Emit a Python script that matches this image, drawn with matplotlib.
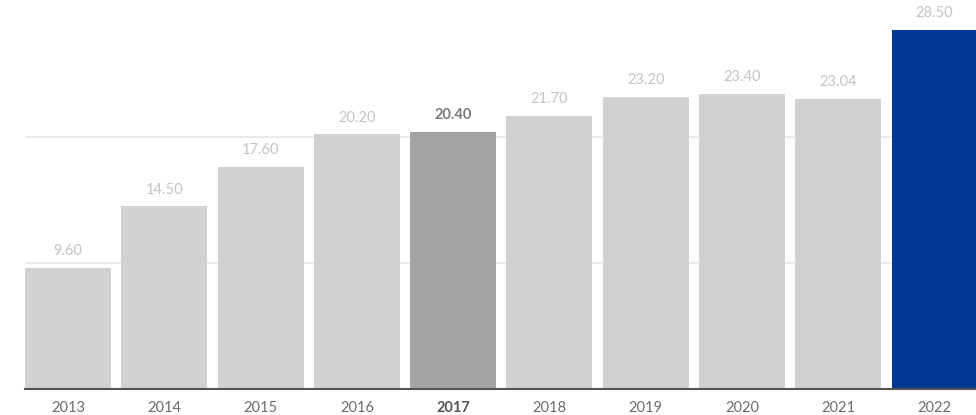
import matplotlib.pyplot as plt

years = ['2013', '2014', '2015', '2016', '2017', '2018', '2019', '2020', '2021', '2022']
values = [9.60, 14.50, 17.60, 20.20, 20.40, 21.70, 23.20, 23.40, 23.04, 28.50]
highlight_year = '2017'
latest_year = '2022'

plt.rcParams['font.family'] = ['Lato', 'DejaVu Sans']

fig = plt.figure(figsize=(9.76, 4.15), dpi=100)
ax = fig.add_axes([25 / 976, 26 / 415, 951 / 976, 389 / 415])

colors = []
for y in years:
    if y == highlight_year:
        colors.append('#a4a4a4')
    elif y == latest_year:
        colors.append('#003894')
    else:
        colors.append('#d1d1d1')

x = list(range(len(years)))
width = 0.893
ax.bar(x, values, width=width, color=colors, zorder=2)

for i, (y, v) in enumerate(zip(years, values)):
    bold = y == highlight_year
    ax.annotate(f'{v:.2f}', (i, v), xytext=(0, 7), textcoords='offset points',
                ha='center', va='bottom', fontsize=10.5,
                color='#7a7a7a' if bold else '#c4c4c4',
                fontweight='bold' if bold else 'normal')

ax.set_xlim(-width / 2, 9.43)
ax.set_ylim(0, 30.87)
ax.set_yticks([10, 20])
ax.yaxis.grid(True, color='#e6e6e6', linewidth=1.2, zorder=0)
ax.tick_params(axis='y', left=False, labelleft=False)
ax.set_xticks(x)
ax.set_xticklabels(years)
ax.tick_params(axis='x', length=0, pad=8.5, labelsize=10.5, labelcolor='#6b6b6b')
for lbl in ax.get_xticklabels():
    if lbl.get_text() == highlight_year:
        lbl.set_fontweight('bold')
        lbl.set_color('#555555')

for s in ['top', 'right', 'left']:
    ax.spines[s].set_visible(False)
ax.spines['bottom'].set_color('#555555')
ax.spines['bottom'].set_linewidth(1.5)
ax.spines['bottom'].set_zorder(3)

fig.savefig('out.png', dpi=100)
